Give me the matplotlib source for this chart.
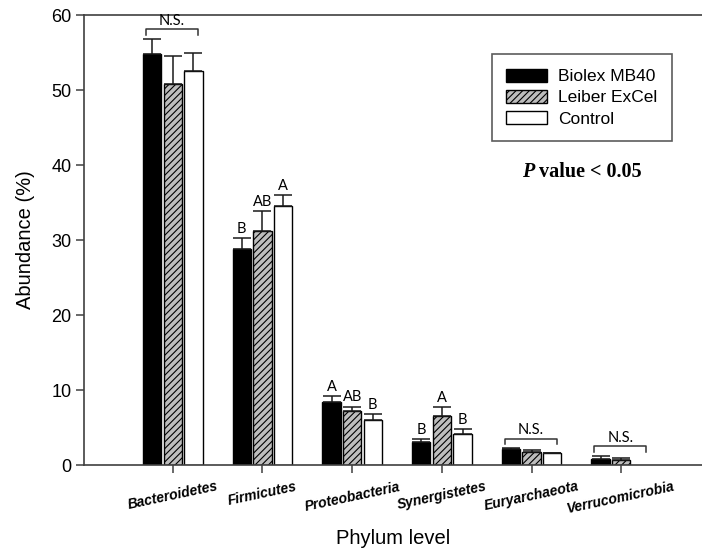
import numpy as np
import matplotlib
matplotlib.use("Agg")
import matplotlib.pyplot as plt

# Datos (abundancia media % y error superior)
filos = ["Bacteroidetes", "Firmicutes", "Proteobacteria",
         "Synergistetes", "Euryarchaeota", "Verrucomicrobia"]

biolex = [54.8, 28.8, 8.45, 3.1, 2.09, 0.80]
biolex_err = [2.0, 1.45, 0.8, 0.4, 0.13, 0.40]

leiber = [50.8, 31.2, 7.2, 6.58, 1.73, 0.71]
leiber_err = [3.75, 2.7, 0.6, 1.1, 0.3, 0.27]

control = [52.5, 34.6, 5.96, 4.13, 1.55, 0.0]
control_err = [2.5, 1.4, 0.8, 0.62, 0.07, 0.0]

# letras de significancia (None = sin letra)
letras_biolex = [None, "B", "A", "B", None, None]
letras_leiber = [None, "AB", "AB", "A", None, None]
letras_control = [None, "A", "B", "B", None, None]

# filos con corchete N.S.
filos_ns = ["Bacteroidetes", "Euryarchaeota", "Verrucomicrobia"]

plt.rcParams["hatch.linewidth"] = 0.8

fig = plt.figure(figsize=(7.02, 5.52), dpi=100)
ax = fig.add_axes([0.119, 0.1576, 0.881, 0.8152])

x = np.arange(len(filos))
ancho = 0.205
sep = 0.23
color_linea = "#1a1a1a"

series = [
    ("Biolex MB40", biolex, biolex_err, letras_biolex,
     dict(color="black", edgecolor="black")),
    ("Leiber ExCel", leiber, leiber_err, letras_leiber,
     dict(color="#bdbdbd", edgecolor="black", hatch="/////")),
    ("Control", control, control_err, letras_control,
     dict(color="white", edgecolor="black")),
]

for i, (nombre, vals, errs, letras, estilo) in enumerate(series):
    pos = x + (i - 1) * sep
    vals = np.array(vals)
    errs = np.array(errs)
    mostrar = vals > 0
    ax.bar(pos[mostrar], vals[mostrar], ancho, label=nombre,
           linewidth=1.0, zorder=2, **estilo)
    ax.errorbar(pos[mostrar], vals[mostrar],
                yerr=[np.zeros(mostrar.sum()), errs[mostrar]],
                fmt="none", ecolor=color_linea, elinewidth=1.1,
                capsize=6.5, capthick=1.1, zorder=3)
    for p, v, e, letra in zip(pos, vals, errs, letras):
        if letra:
            ax.annotate(letra, (p, v + e), xytext=(0, 1.5),
                        textcoords="offset points", ha="center",
                        va="bottom", fontsize=10.5, family="Lato")

# corchetes N.S.
for nombre in filos_ns:
    k = filos.index(nombre)
    tope = max(biolex[k] + biolex_err[k], leiber[k] + leiber_err[k],
               control[k] + control_err[k])
    yb = tope + 1.3
    x0, x1 = x[k] - 0.3, x[k] + 0.28
    ax.plot([x0, x0, x1, x1], [yb - 0.75, yb, yb, yb - 0.75],
            color="#333333", lw=1.1, zorder=3)
    ax.annotate("N.S.", ((x0 + x1) / 2, yb), xytext=(0, 1),
                textcoords="offset points", ha="center", va="bottom",
                fontsize=10.5, family="Lato")

ax.set_xlim(-0.995, 5.9)
ax.set_ylim(0, 60)
ax.set_yticks(range(0, 61, 10))
ax.set_xticks(x)
ax.set_xticklabels(filos, rotation=12, fontsize=10,
                   fontweight="bold", fontstyle="italic",
                   family="Liberation Sans")
for lbl in ax.get_yticklabels():
    lbl.set_family("Liberation Sans")
    lbl.set_fontsize(13)

ax.tick_params(axis="both", direction="out", length=5.5, width=1.1,
               color="#404040")
ax.tick_params(axis="x", pad=5)
ax.tick_params(axis="y", pad=3)
ax.spines["right"].set_visible(False)
for lado in ["top", "left", "bottom"]:
    ax.spines[lado].set_color("#404040")
    ax.spines[lado].set_linewidth(1.2)

ax.set_ylabel("Abundance (%)", fontsize=14.5, family="Liberation Sans",
              labelpad=12)
ax.set_xlabel("Phylum level", fontsize=14.5, family="Liberation Sans",
              labelpad=9)

ley = ax.legend(loc="upper left", bbox_to_anchor=(0.66, 0.913),
                borderaxespad=0, fancybox=False, frameon=True,
                edgecolor="#333333",
                prop={"family": "Liberation Sans", "size": 12.5},
                handlelength=2.35, handleheight=0.75, labelspacing=0.33,
                borderpad=0.85, handletextpad=0.6)
ley.get_frame().set_linewidth(1.2)

# texto "P value < 0.05" (P en italica)
t1 = ax.text(3.89, 38.4, "P", fontsize=14.5, family="Liberation Serif",
             fontweight="bold", fontstyle="italic", va="baseline",
             ha="left")
ax.annotate(" value < 0.05", xy=(1, 0), xycoords=t1, fontsize=14.5,
            family="Liberation Serif", fontweight="bold", va="bottom",
            ha="left")

fig.savefig("out.png", dpi=100)
